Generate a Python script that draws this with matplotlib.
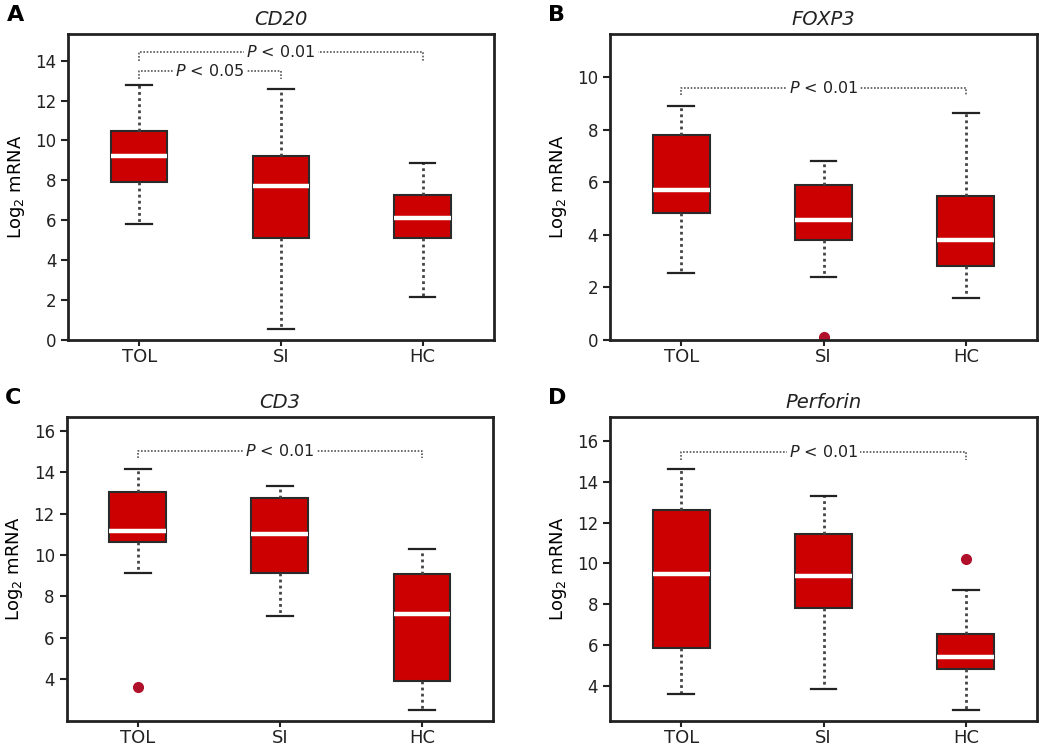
import matplotlib
matplotlib.use('Agg')
import matplotlib.pyplot as plt

groups = ['TOL', 'SI', 'HC']

# CD20
cd20_low = [5.83, 0.57, 2.18]
cd20_q1 = [7.92, 5.10, 5.10]
cd20_med = [9.23, 7.70, 6.11]
cd20_q3 = [10.47, 9.23, 7.25]
cd20_high = [12.79, 12.57, 8.88]
cd20_out = [[], [], []]

# FOXP3
foxp3_low = [2.55, 2.41, 1.58]
foxp3_q1 = [4.84, 3.81, 2.83]
foxp3_med = [5.72, 4.57, 3.81]
foxp3_q3 = [7.78, 5.90, 5.46]
foxp3_high = [8.91, 6.80, 8.64]
foxp3_out = [[], [0.13], []]

# CD3
cd3_low = [9.12, 7.07, 2.52]
cd3_q1 = [10.62, 9.12, 3.92]
cd3_med = [11.18, 11.04, 7.16]
cd3_q3 = [13.07, 12.78, 9.07]
cd3_high = [14.16, 13.36, 10.31]
cd3_out = [[3.6], [], []]

# Perforin
perf_low = [3.58, 3.84, 2.81]
perf_q1 = [5.86, 7.80, 4.80]
perf_med = [9.50, 9.38, 5.42]
perf_q3 = [12.62, 11.45, 6.52]
perf_high = [14.64, 13.32, 8.69]
perf_out = [[], [], [10.23]]

# comparisons: (group a, group b, bar height, drop, label)
cd20_sig = [(1, 3, 14.43, 0.45, '0.01'), (1, 2, 13.5, 0.4, '0.05')]
foxp3_sig = [(1, 3, 9.6, 0.3, '0.01')]
cd3_sig = [(1, 3, 15.05, 0.35, '0.01')]
perf_sig = [(1, 3, 15.48, 0.4, '0.01')]

panels = [
    ('A', 'CD20', cd20_low, cd20_q1, cd20_med, cd20_q3, cd20_high, cd20_out, cd20_sig,
     (0, 15.35), [0, 2, 4, 6, 8, 10, 12, 14], [0.065, 0.546, 0.405, 0.409]),
    ('B', 'FOXP3', foxp3_low, foxp3_q1, foxp3_med, foxp3_q3, foxp3_high, foxp3_out, foxp3_sig,
     (0, 11.65), [0, 2, 4, 6, 8, 10], [0.581, 0.546, 0.4066, 0.409]),
    ('C', 'CD3', cd3_low, cd3_q1, cd3_med, cd3_q3, cd3_high, cd3_out, cd3_sig,
     (1.98, 16.69), [4, 6, 8, 10, 12, 14, 16], [0.0635, 0.0374, 0.406, 0.4062]),
    ('D', 'Perforin', perf_low, perf_q1, perf_med, perf_q3, perf_high, perf_out, perf_sig,
     (2.27, 17.19), [4, 6, 8, 10, 12, 14, 16], [0.581, 0.0374, 0.4066, 0.4062]),
]

plt.rcParams['font.family'] = ['DejaVu Sans']
plt.rcParams['mathtext.fontset'] = 'dejavusans'

fig = plt.figure(figsize=(10.5, 7.49), dpi=100)

for letter, gene, lo, q1, med, q3, hi, out, sig, ylim, yticks, pos in panels:
    ax = fig.add_axes(pos)
    stats = []
    for i in range(len(groups)):
        stats.append(dict(whislo=lo[i], q1=q1[i], med=med[i], q3=q3[i],
                          whishi=hi[i], fliers=out[i], label=groups[i]))
    ax.bxp(stats, positions=[1, 2, 3], widths=0.4, capwidths=0.18,
           patch_artist=True, showfliers=True,
           boxprops=dict(facecolor='#cc0000', edgecolor='#2a2a2a', linewidth=1.5),
           medianprops=dict(color='white', linewidth=3.2),
           whiskerprops=dict(color='#444444', linestyle=(0, (1, 1.2)), linewidth=2),
           capprops=dict(color='#222222', linewidth=1.6),
           flierprops=dict(marker='o', markerfacecolor='#b0102a',
                           markeredgecolor='#b0102a', markersize=7))

    for a, b, y, drop, p in sig:
        ax.plot([a, a, b, b], [y - drop, y, y, y - drop], color='#555555',
                linestyle=(0, (1, 1)), linewidth=1.2)
        ax.text((a + b) / 2, y, r'$\it{P}$ < ' + p, ha='center', va='center',
                fontsize=11.5, color='#222222',
                bbox=dict(facecolor='white', edgecolor='none', pad=1.5))

    ax.set_xlim(0.5, 3.5)
    ax.set_ylim(*ylim)
    ax.set_yticks(yticks)
    ax.set_xticks([1, 2, 3])
    ax.set_xticklabels(groups, fontsize=13)
    ax.tick_params(axis='y', labelsize=12, length=5, width=1.5, colors='#222222')
    ax.tick_params(axis='x', length=4, width=1.5, colors='#222222', pad=2)
    for s in ax.spines.values():
        s.set_linewidth(2)
        s.set_color('#222222')
    ax.set_ylabel(r'Log$_2$ mRNA', fontsize=13, labelpad=6)
    ax.set_title(gene, fontsize=14, style='italic', pad=6, color='#222222')
    ax.text(-0.145, 1.06, letter, transform=ax.transAxes, fontsize=16,
            fontweight='bold', ha='left', va='center')

fig.savefig('out.png', dpi=100)
